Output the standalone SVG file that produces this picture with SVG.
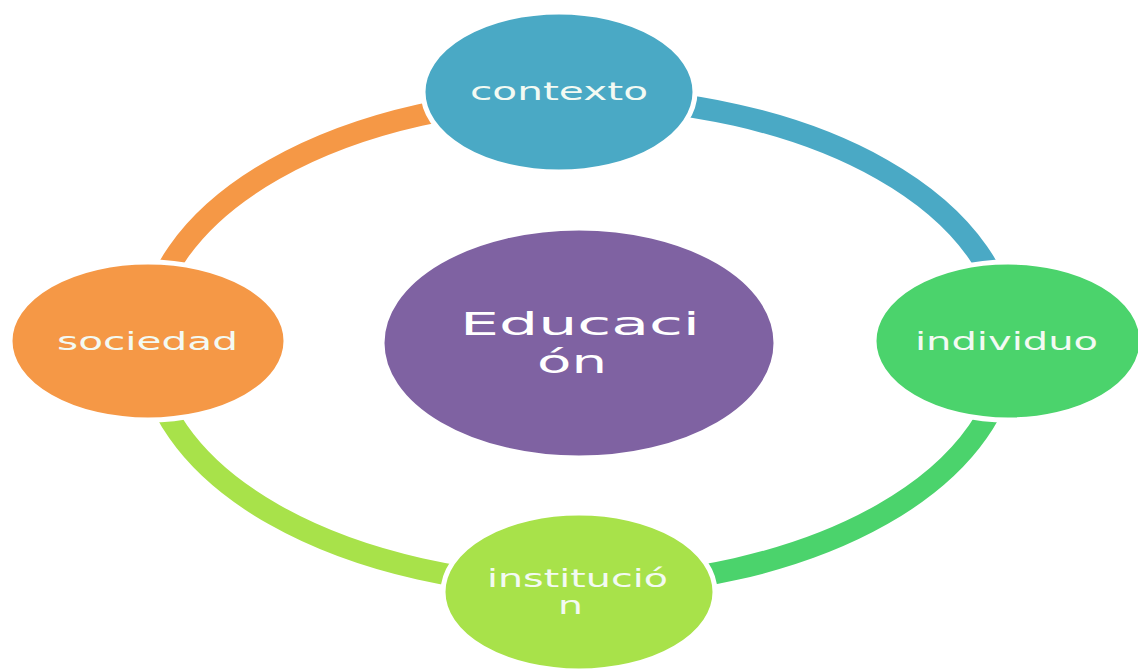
<svg xmlns="http://www.w3.org/2000/svg" width="1138" height="671" viewBox="0 0 1138 671">
<style>
.arc{fill:none;stroke-width:22}
.node{stroke:#ffffff;stroke-width:5}
.lbl{font-family:"DejaVu Sans",sans-serif;font-size:25px;fill:#f3faf3}
.big{font-family:"DejaVu Sans",sans-serif;font-size:32px;fill:#ffffff}
</style>
<rect width="1138" height="671" fill="#ffffff"/>
<g id="connectors">
<path class="arc" stroke="#4aa9c5" d="M 578 98 A 430 244 0 0 1 1008 342"/>
<path class="arc" stroke="#4bd36c" d="M 1008 342 A 430 244 0 0 1 578 586"/>
<path class="arc" stroke="#a8e24a" d="M 578 586 A 430 244 0 0 1 148 342"/>
<path class="arc" stroke="#f59846" d="M 148 342 A 430 244 0 0 1 578 98"/>
</g>
<g id="educacion">
<ellipse class="node" cx="579" cy="343" rx="197" ry="115" fill="#7f62a2"/>
<text class="big" x="460" y="335" textLength="240" lengthAdjust="spacingAndGlyphs">Educaci</text>
<text class="big" x="537" y="373" textLength="70" lengthAdjust="spacingAndGlyphs">ón</text>
</g>
<g id="contexto">
<ellipse class="node" cx="559" cy="92" rx="136" ry="80" fill="#4aa9c5"/>
<text class="lbl" x="470" y="100" textLength="178" lengthAdjust="spacingAndGlyphs">contexto</text>
</g>
<g id="individuo">
<ellipse class="node" cx="1008" cy="341" rx="134" ry="79" fill="#4bd36c"/>
<text class="lbl" x="915" y="350" textLength="183" lengthAdjust="spacingAndGlyphs">individuo</text>
</g>
<g id="institucion">
<ellipse class="node" cx="579" cy="592" rx="136" ry="79" fill="#a8e24a"/>
<text class="lbl" x="487" y="587" textLength="181" lengthAdjust="spacingAndGlyphs">institució</text>
<text class="lbl" x="558" y="614" textLength="25" lengthAdjust="spacingAndGlyphs">n</text>
</g>
<g id="sociedad">
<ellipse class="node" cx="148" cy="341" rx="138" ry="79" fill="#f59846"/>
<text class="lbl" x="57" y="350" textLength="181" lengthAdjust="spacingAndGlyphs">sociedad</text>
</g>
</svg>
